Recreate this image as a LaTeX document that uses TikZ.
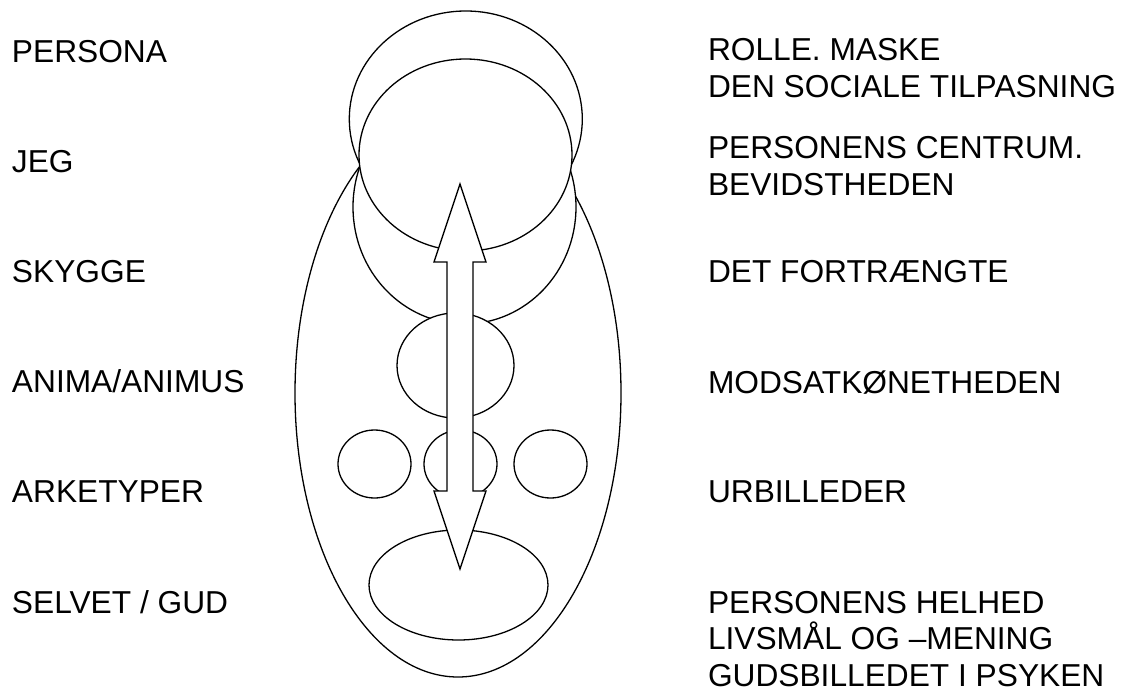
\documentclass[tikz,border=0pt]{standalone}
\usepackage{fontspec}
\setmainfont{Liberation Sans}
\usetikzlibrary{shapes.geometric}
\begin{document}
\begin{tikzpicture}[x=1pt,y=-1pt,
  shp/.style={ellipse,draw=black,fill=white,line width=1.3pt,inner sep=0pt,outer sep=0pt},
  lbl/.style={anchor=base west,inner sep=0pt,outer sep=0pt,font=\fontsize{31.7}{36.7}\selectfont},
  blockarrow/.style={draw=black,fill=white,line width=1.3pt,line join=miter}]
\useasboundingbox (0,0) rectangle (1128,691);
\fill[white] (0,0) rectangle (1128,691);
% shapes
\node[shp,minimum width=326pt,minimum height=568pt] (psyke) at (458,393) {};
\node[shp,minimum width=223pt,minimum height=234pt] (skygge) at (464.5,207) {};
\node[shp,minimum width=233pt,minimum height=216pt] (persona) at (465.8,119) {};
\node[shp,minimum width=213pt,minimum height=192pt] (jeg) at (465.5,155) {};
\node[shp,minimum width=117pt,minimum height=105pt] (anima) at (455.5,365.5) {};
\node[shp,minimum width=73pt,minimum height=68pt] (ark1) at (374.5,464) {};
\node[shp,minimum width=73pt,minimum height=68pt] (ark2) at (460.5,464) {};
\node[shp,minimum width=73pt,minimum height=68pt] (ark3) at (550.5,464) {};
\node[shp,minimum width=179pt,minimum height=110pt] (selvet) at (458.5,585) {};
% double block arrow
\coordinate (tipup) at (460,184);
\coordinate (tipdown) at (460,569);
\draw[blockarrow] (tipup) -- (486,262) -- (473,262) -- (473,491) -- (486,491)
  -- (tipdown) -- (434,491) -- (447,491) -- (447,262) -- (434,262) -- cycle;
% left labels
\node[lbl] (lpersona) at (12,62) {PERSONA};
\node[lbl] (ljeg) at (12,172) {JEG};
\node[lbl] (lskygge) at (12,282) {SKYGGE};
\node[lbl] (lanima) at (12,392) {ANIMA/ANIMUS};
\node[lbl] (lark) at (12,502) {ARKETYPER};
\node[lbl] (lselvet) at (12,613) {SELVET / GUD};
% right labels
\node[lbl] (r1a) at (708,60) {ROLLE. MASKE};
\node[lbl] (r1b) at (708,97) {DEN SOCIALE TILPASNING};
\node[lbl] (r2a) at (708,158) {PERSONENS CENTRUM.};
\node[lbl] (r2b) at (708,195) {BEVIDSTHEDEN};
\node[lbl] (r3) at (708,282) {DET FORTRÆNGTE};
\node[lbl] (r4) at (708,393) {MODSATKØNETHEDEN};
\node[lbl] (r5) at (708,502) {URBILLEDER};
\node[lbl] (r6a) at (708,613) {PERSONENS HELHED};
\node[lbl] (r6b) at (708,649) {LIVSMÅL OG –MENING};
\node[lbl] (r6c) at (708,686) {GUDSBILLEDET I PSYKEN};
\end{tikzpicture}
\end{document}
